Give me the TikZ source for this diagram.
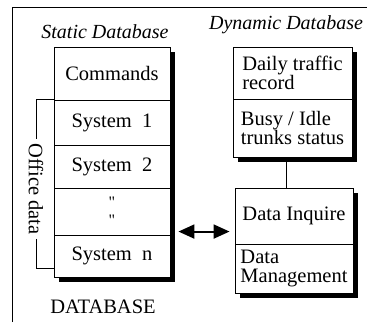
\documentclass[tikz,border=0pt]{standalone}
\usepackage{fontspec}
\setmainfont{Liberation Serif}
\usetikzlibrary{arrows.meta, calc}
\tikzstyle{every node}+=[font=\fontsize{20.5}{19}\selectfont]
\tikzstyle{title}=[font=\fontsize{20}{19}\selectfont\itshape]
\tikzstyle{cell}=[draw, fill=white, line width=0.9pt, minimum width=116pt, inner sep=0pt, align=center]
\tikzstyle{dcell}=[draw, fill=white, line width=0.9pt, minimum width=119pt, inner sep=0pt, align=left]
\tikzstyle{shade}=[fill=black]
\tikzstyle{link}=[line width=0.8pt]

\begin{document}
\begin{tikzpicture}[x=1pt, y=-1pt]
	\useasboundingbox (0,0) rectangle (367,322);
	\draw[link] (12,322) -- (12,7) -- (367,7);

	% static part
	\node[title] (static) at (105,32) {Static Database};
	\fill[shade] (59,52) rectangle (175,282);
	\node[cell, minimum height=53pt] (cmd) at (112,73.5) {Commands};
	\node[cell, minimum height=45pt] (sys1) at (112,122.5) {System\enspace 1};
	\node[cell, minimum height=43pt] (sys2) at (112,166.5) {System\enspace 2};
	\node[cell, minimum height=47pt, font=\fontsize{16}{18}\selectfont] (dots) at (112,211.5) {\textquotedbl\\\textquotedbl};
	\node[cell, minimum height=42pt] (sysn) at (112,256) {System\enspace n};
	\node (db) at (103,307) {DATABASE};

	\node[rotate=-90, inner sep=4pt] (office) at (36,189) {Office data};
	\draw[link] (sys1.north west) -| (office.west);
	\draw[link] (office.east) |- ([yshift=9pt]sysn.south west);

	% dynamic part
	\node[title] (dynamic) at (286,25) {Dynamic Database};
	\fill[shade] (238,52) rectangle (357,162);
	\node[dcell, minimum height=52pt] (daily) at (292.5,73) {Daily traffic\\record};
	\node[dcell, minimum height=58pt] (busy) at (292.5,128) {Busy / Idle\\trunks status};
	\fill[shade] (240,193) rectangle (358,298);
	\node[dcell, minimum width=118pt, minimum height=56pt] (inquire) at (294,216) {Data Inquire};
	\node[dcell, minimum width=118pt, minimum height=49pt] (manage) at (294,268.5) {Data\\Management};

	\draw[link] ([xshift=-6pt]busy.south) -- ([xshift=-6pt]busy.south |- inquire.north);
	\draw[line width=2pt, {Triangle[length=16pt,width=14pt]}-{Triangle[length=16pt,width=14pt]}]
		($(sysn.north east)+(8pt,3pt)$) -- ($(sysn.north east -| inquire.west)+(-5pt,3pt)$);
\end{tikzpicture}
\end{document}
